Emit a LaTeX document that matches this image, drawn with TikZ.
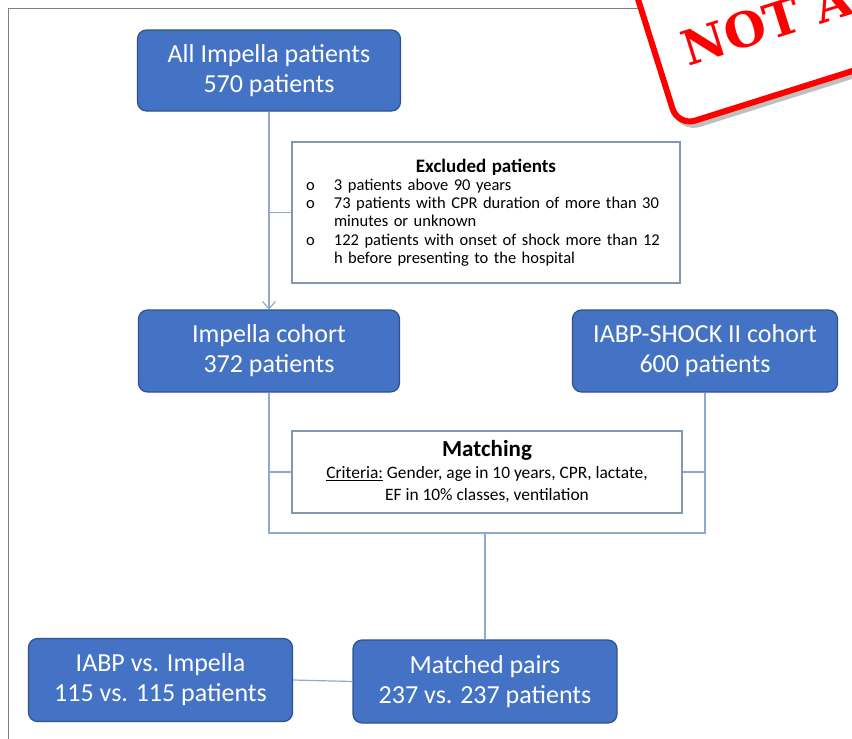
\documentclass[tikz,border=0pt]{standalone}
\usepackage{fontspec}
\setmainfont{Carlito}
\newfontfamily\stampfont{DejaVu Serif}
\usetikzlibrary{arrows.meta}
\definecolor{boxblue}{HTML}{4472C4}
\definecolor{boxborder}{HTML}{2F528F}
\definecolor{linkblue}{HTML}{8FA8D4}
\definecolor{noteborder}{HTML}{8497B0}
\definecolor{framegray}{HTML}{7F7F7F}
\definecolor{stampred}{HTML}{FF0000}
\tikzset{
  bluebox/.style={draw=boxborder, fill=boxblue, line width=1.2pt, rounded corners=9pt,
    text=white, align=center, minimum width=263pt, minimum height=81pt,
    font=\fontsize{26}{30}\selectfont},
  notebox/.style={draw=noteborder, fill=white, line width=1.5pt,
    font=\fontsize{16.5}{18.3}\selectfont},
  link/.style={draw=linkblue, line width=1.2pt},
}
\newcommand{\bul}{\makebox[28pt][l]{o}}

\begin{document}
\begin{tikzpicture}[x=1pt,y=-1pt]
\useasboundingbox (0,0) rectangle (852,739);
% frame
\draw[framegray, line width=1pt] (8,739) -- (8,8) -- (852,8);
% boxes
\node[bluebox] (all) at (269,70.5) {All Impella patients\\570 patients};
\node[notebox, text width=360pt, minimum width=388pt, minimum height=141pt, align=left] (excl) at (486,212.5)
  {\makebox[\linewidth]{\fontsize{19}{22}\selectfont\bfseries Excluded patients}\\
   \bul 3 patients above 90 years\\
   \bul 73 patients with CPR duration of more than 30\\
   \hspace*{28pt}minutes or unknown\\
   \bul 122 patients with onset of shock more than 12\\
   \hspace*{28pt}h before presenting to the hospital};
\node[bluebox, minimum width=261pt, minimum height=82pt] (cohort) at (269,351) {Impella cohort\\372 patients};
\node[bluebox, minimum width=265pt, minimum height=82pt] (shock) at (705,351) {IABP-SHOCK II cohort\\600 patients};
\node[notebox, minimum width=390pt, minimum height=82pt, align=center,
  font=\fontsize{17.4}{22}\selectfont] (match) at (487,472)
  {{\fontsize{23}{24}\selectfont\bfseries Matching}\\
   \underline{Criteria:} Gender, age in 10 years, CPR, lactate,\\
   EF in 10\% classes, ventilation};
\node[bluebox, minimum width=264pt, minimum height=83pt] (iabp) at (160.5,680) {IABP vs. Impella\\115 vs. 115 patients};
\node[bluebox, minimum width=264pt, minimum height=83pt] (pairs) at (485,681.5) {Matched pairs\\237 vs. 237 patients};
\coordinate (join) at (pairs.north |- 0,533);
% connectors
\draw[link, -{Straight Barb[length=7pt,width=13pt]}] (all.south) -- (cohort.north);
\draw[link] (excl.west) -- (excl.west -| all.south);
\draw[link] (cohort.south) |- (join) -| (shock.south);
\draw[link] (match.west) -- (match.west -| cohort.south);
\draw[link] (match.east) -- (match.east -| shock.south);
\draw[link] (join) -- (pairs.north);
\draw[link] (pairs.west) -- (iabp.east);
% stamp
\begin{scope}
\clip (0,0) rectangle (852,739);
\begin{scope}[shift={(678,126)}, rotate=17.5]
\draw[black!25, line width=7pt, rounded corners=18pt] (3,4) rectangle (420,-170);
\draw[stampred, fill=white, line width=6pt, rounded corners=18pt] (0,0) rectangle (420,-170);
\node[anchor=base west, inner sep=0pt, text=stampred, rotate=17.5,
  font=\stampfont\bfseries\fontsize{48}{48}\selectfont] (stamp) at (28,-54) {NOT A};
\end{scope}
\end{scope}
\end{tikzpicture}
\end{document}
